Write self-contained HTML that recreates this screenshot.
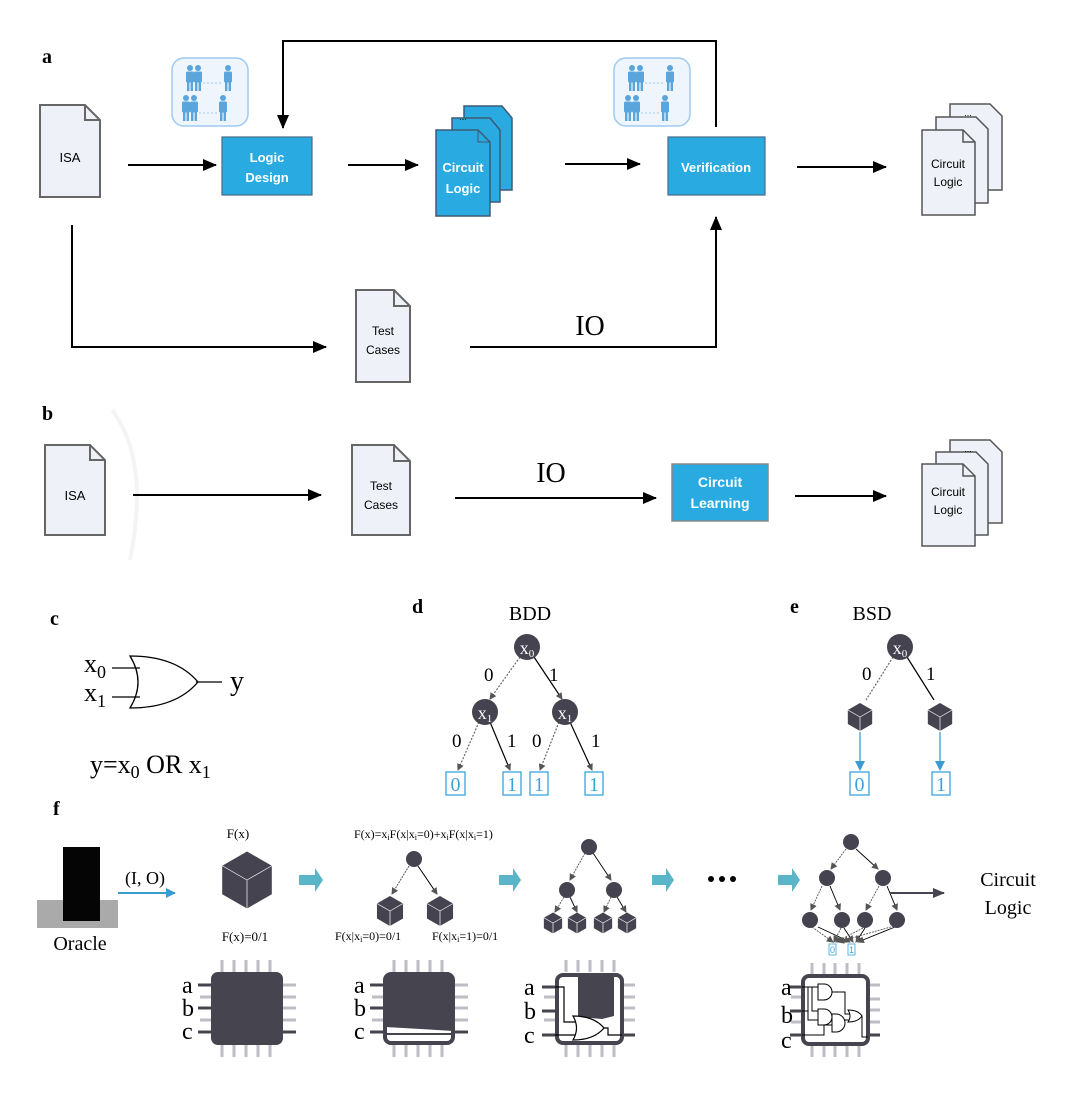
<!DOCTYPE html>
<html><head><meta charset="utf-8"><style>
html,body{margin:0;padding:0;background:#fff;}
svg{display:block;}
.sans{font-family:"Liberation Sans",sans-serif;}
.serif{font-family:"Liberation Serif",serif;}
</style></head><body>
<svg width="1080" height="1093" viewBox="0 0 1080 1093" xmlns="http://www.w3.org/2000/svg">
<defs>
<marker id="ah" markerWidth="14" markerHeight="12" refX="13" refY="6" orient="auto" markerUnits="userSpaceOnUse"><path d="M0,0 L14,6 L0,12 Z" fill="#000"/></marker>
<marker id="ahg" markerWidth="7" markerHeight="7" refX="6" refY="3.5" orient="auto" markerUnits="userSpaceOnUse"><path d="M0,0 L7,3.5 L0,7 Z" fill="#555"/></marker>
<marker id="ahb" markerWidth="10" markerHeight="10" refX="9" refY="5" orient="auto" markerUnits="userSpaceOnUse"><path d="M0,0 L10,5 L0,10 Z" fill="#3a9bd0"/></marker>
<marker id="ahd" markerWidth="12" markerHeight="12" refX="11" refY="6" orient="auto" markerUnits="userSpaceOnUse"><path d="M0,1 L12,6 L0,11 Z" fill="#45444f"/></marker>
<g id="cube"><path d="M0,-10 L8.7,-5 L8.7,5 L0,10 L-8.7,5 L-8.7,-5Z" fill="#44434f"/><path d="M0,0 V10 M0,0 L-8.7,-5 M0,0 L8.7,-5" stroke="#fff" stroke-width="0.7" fill="none" vector-effect="non-scaling-stroke"/></g>
<g id="person" fill="#5aa6dc"><circle cx="0" cy="0" r="3"/><rect x="-4" y="3.5" width="8" height="11" rx="1.5"/><rect x="-3" y="13" width="2.4" height="10"/><rect x="0.6" y="13" width="2.4" height="10"/></g>
<g id="people"><rect x="0" y="0" width="76" height="68" rx="12" fill="#eef5fc" stroke="#9fcaf0" stroke-width="1.5"/>
<use href="#person" transform="translate(18,10)"/><use href="#person" transform="translate(26,10)"/><use href="#person" transform="translate(56,10)"/>
<use href="#person" transform="translate(14,40)"/><use href="#person" transform="translate(22,40)"/><use href="#person" transform="translate(51,40)"/>
<path d="M31,25 H50 M27,55 H45" stroke="#9fcaf0" stroke-dasharray="2,2"/></g>
</defs>

<!-- Panel a -->
<text x="42" y="63" class="serif" font-size="20" font-weight="bold">a</text>
<path d="M40,105 H85 L100,120 V197 H40 Z" fill="#eef2f8" stroke="#666" stroke-width="2"/><path d="M85,105 V120 H100" fill="none" stroke="#666" stroke-width="2"/>
<text x="70" y="162" class="sans" font-size="13" text-anchor="middle">ISA</text>
<line x1="128" y1="165" x2="216" y2="165" stroke="#000" stroke-width="2" marker-end="url(#ah)"/>
<use href="#people" transform="translate(172,58)"/>
<rect x="222" y="137" width="90" height="58" fill="#29abe2" stroke="#4a6a88" stroke-width="1.2"/>
<text x="267" y="162" class="sans" font-size="13" font-weight="bold" fill="#fff" text-anchor="middle">Logic</text>
<text x="267" y="182" class="sans" font-size="13" font-weight="bold" fill="#fff" text-anchor="middle">Design</text>
<line x1="348" y1="165" x2="418" y2="165" stroke="#000" stroke-width="2" marker-end="url(#ah)"/>
<path d="M464,106 H502 L512,118 V190 H464 Z" fill="#29abe2" stroke="#3d5a75" stroke-width="1.5"/>
<path d="M452,118 H490 L500,130 V202 H452 Z" fill="#29abe2" stroke="#3d5a75" stroke-width="1.5"/>
<path d="M436,130 H478 L490,142 V216 H436 Z" fill="#29abe2" stroke="#3d5a75" stroke-width="1.5"/><path d="M478,130 V142 H490" fill="none" stroke="#3d5a75"/>
<text x="463" y="120" class="sans" font-size="9" text-anchor="middle">...</text>
<text x="463" y="172" class="sans" font-size="13" font-weight="bold" fill="#fff" text-anchor="middle">Circuit</text>
<text x="463" y="193" class="sans" font-size="13" font-weight="bold" fill="#fff" text-anchor="middle">Logic</text>
<line x1="565" y1="164" x2="640" y2="164" stroke="#000" stroke-width="2" marker-end="url(#ah)"/>
<use href="#people" transform="translate(614,58)"/>
<rect x="668" y="137" width="97" height="58" fill="#29abe2" stroke="#4a6a88" stroke-width="1.2"/>
<text x="716" y="172" class="sans" font-size="13" font-weight="bold" fill="#fff" text-anchor="middle">Verification</text>
<polyline points="716,127 716,41 283,41 283,128" fill="none" stroke="#000" stroke-width="2" marker-end="url(#ah)"/>
<line x1="797" y1="167" x2="886" y2="167" stroke="#000" stroke-width="2" marker-end="url(#ah)"/>
<g fill="#eef2f8" stroke="#555" stroke-width="1.5">
<path d="M950,104 H990 L1002,116 V190 H950 Z"/><path d="M936,117 H976 L988,129 V203 H936 Z"/><path d="M922,130 H963 L975,142 V215 H922 Z"/><path d="M963,130 V142 H975" fill="none"/></g>
<text x="968" y="116" class="sans" font-size="9" text-anchor="middle">...</text>
<text x="948" y="168" class="sans" font-size="12" text-anchor="middle">Circuit</text>
<text x="948" y="186" class="sans" font-size="12" text-anchor="middle">Logic</text>
<polyline points="72,225 72,347 326,347" fill="none" stroke="#000" stroke-width="2" marker-end="url(#ah)"/>
<path d="M356,290 H394 L410,306 V382 H356 Z" fill="#eef2f8" stroke="#666" stroke-width="2"/><path d="M394,290 V306 H410" fill="none" stroke="#666" stroke-width="2"/>
<text x="383" y="335" class="sans" font-size="12" text-anchor="middle">Test</text>
<text x="383" y="354" class="sans" font-size="12" text-anchor="middle">Cases</text>
<polyline points="470,347 716,347 716,217" fill="none" stroke="#000" stroke-width="2" marker-end="url(#ah)"/>
<text x="590" y="335" class="serif" font-size="28" text-anchor="middle">IO</text>

<!-- Panel b -->
<text x="42" y="420" class="serif" font-size="20" font-weight="bold">b</text>
<path d="M112,410 Q150,460 130,560" fill="none" stroke="#f4f4f4" stroke-width="4"/>
<path d="M45,445 H90 L105,460 V535 H45 Z" fill="#eef2f8" stroke="#666" stroke-width="2"/><path d="M90,445 V460 H105" fill="none" stroke="#666" stroke-width="2"/>
<text x="75" y="500" class="sans" font-size="13" text-anchor="middle">ISA</text>
<line x1="133" y1="495" x2="321" y2="495" stroke="#000" stroke-width="2" marker-end="url(#ah)"/>
<path d="M352,445 H394 L410,461 V535 H352 Z" fill="#eef2f8" stroke="#666" stroke-width="2"/><path d="M394,445 V461 H410" fill="none" stroke="#666" stroke-width="2"/>
<text x="381" y="490" class="sans" font-size="12" text-anchor="middle">Test</text>
<text x="381" y="509" class="sans" font-size="12" text-anchor="middle">Cases</text>
<line x1="455" y1="498" x2="656" y2="498" stroke="#000" stroke-width="2" marker-end="url(#ah)"/>
<text x="551" y="482" class="serif" font-size="28" text-anchor="middle">IO</text>
<rect x="672" y="464" width="96" height="57" fill="#29abe2" stroke="#888" stroke-width="1.5"/>
<text x="720" y="487" class="sans" font-size="14" font-weight="bold" fill="#fff" text-anchor="middle">Circuit</text>
<text x="720" y="508" class="sans" font-size="14" font-weight="bold" fill="#fff" text-anchor="middle">Learning</text>
<line x1="795" y1="496" x2="886" y2="496" stroke="#000" stroke-width="2" marker-end="url(#ah)"/>
<g fill="#eef2f8" stroke="#555" stroke-width="1.5">
<path d="M950,440 H990 L1002,452 V523 H950 Z"/><path d="M936,452 H976 L988,464 V535 H936 Z"/><path d="M922,464 H963 L975,476 V546 H922 Z"/><path d="M963,464 V476 H975" fill="none"/></g>
<text x="968" y="452" class="sans" font-size="9" text-anchor="middle">...</text>
<text x="948" y="496" class="sans" font-size="12" text-anchor="middle">Circuit</text>
<text x="948" y="514" class="sans" font-size="12" text-anchor="middle">Logic</text>

<!-- Panel c -->
<text x="50" y="625" class="serif" font-size="20" font-weight="bold">c</text>
<text x="84" y="672" class="serif" font-size="26">x<tspan font-size="18" dy="6">0</tspan></text>
<text x="84" y="701" class="serif" font-size="26">x<tspan font-size="18" dy="6">1</tspan></text>
<path d="M112,668 H140 M112,697 H140 M196,682 H222" stroke="#000" stroke-width="1.3"/>
<path d="M130,656 Q146,682 130,708 Q176,708 198,682 Q176,656 130,656 Z" fill="none" stroke="#000" stroke-width="1.3"/>
<text x="230" y="690" class="serif" font-size="28">y</text>
<text x="90" y="773" class="serif" font-size="26">y=x<tspan font-size="18" dy="5">0</tspan><tspan dy="-5"> OR x</tspan><tspan font-size="18" dy="5">1</tspan></text>

<!-- Panel d -->
<text x="412" y="613" class="serif" font-size="20" font-weight="bold">d</text>
<text x="530" y="620" class="serif" font-size="20" text-anchor="middle">BDD</text>
<g stroke-width="1.2" fill="none">
<line x1="520" y1="657" x2="490" y2="699" stroke="#666" stroke-dasharray="2,1.5" marker-end="url(#ahg)"/>
<line x1="534" y1="657" x2="562" y2="699" stroke="#000" marker-end="url(#ahg)"/>
<line x1="479" y1="722" x2="458" y2="770" stroke="#666" stroke-dasharray="2,1.5" marker-end="url(#ahg)"/>
<line x1="490" y1="722" x2="510" y2="770" stroke="#000" marker-end="url(#ahg)"/>
<line x1="559" y1="722" x2="540" y2="770" stroke="#666" stroke-dasharray="2,1.5" marker-end="url(#ahg)"/>
<line x1="570" y1="722" x2="592" y2="770" stroke="#000" marker-end="url(#ahg)"/>
</g>
<circle cx="527" cy="647" r="13" fill="#44434f"/><text x="527" y="654" class="serif" font-size="18" fill="#fff" text-anchor="middle">x<tspan font-size="11" dy="3">0</tspan></text>
<circle cx="485" cy="712" r="13" fill="#44434f"/><text x="485" y="719" class="serif" font-size="18" fill="#fff" text-anchor="middle">x<tspan font-size="11" dy="3">1</tspan></text>
<circle cx="565" cy="712" r="13" fill="#44434f"/><text x="565" y="719" class="serif" font-size="18" fill="#fff" text-anchor="middle">x<tspan font-size="11" dy="3">1</tspan></text>
<g class="serif" font-size="19"><text x="484" y="681">0</text><text x="549" y="681">1</text><text x="452" y="747">0</text><text x="507" y="747">1</text><text x="532" y="747">0</text><text x="591" y="747">1</text></g>
<g fill="none" stroke="#3aa3dc" stroke-width="1.3"><rect x="446" y="772" width="19" height="23"/><rect x="503" y="772" width="18" height="23"/><rect x="530" y="772" width="18" height="23"/><rect x="585" y="772" width="18" height="23"/></g>
<g class="serif" font-size="20" fill="#3aa3dc" text-anchor="middle"><text x="455.5" y="791">0</text><text x="512" y="791">1</text><text x="539" y="791">1</text><text x="594" y="791">1</text></g>

<!-- Panel e -->
<text x="790" y="613" class="serif" font-size="20" font-weight="bold">e</text>
<text x="872" y="620" class="serif" font-size="20" text-anchor="middle">BSD</text>
<line x1="893" y1="657" x2="866" y2="700" stroke="#666" stroke-dasharray="2,1.5" stroke-width="1.2"/>
<line x1="907" y1="657" x2="934" y2="700" stroke="#000" stroke-width="1.2"/>
<circle cx="900" cy="647" r="13" fill="#44434f"/><text x="900" y="654" class="serif" font-size="18" fill="#fff" text-anchor="middle">x<tspan font-size="11" dy="3">0</tspan></text>
<text x="862" y="680" class="serif" font-size="19">0</text><text x="926" y="680" class="serif" font-size="19">1</text>
<use href="#cube" transform="translate(860,717) scale(1.4)"/><use href="#cube" transform="translate(940,717) scale(1.4)"/>
<line x1="860" y1="732" x2="860" y2="770" stroke="#3a9bd0" stroke-width="1.3" marker-end="url(#ahb)"/>
<line x1="940" y1="732" x2="940" y2="770" stroke="#3a9bd0" stroke-width="1.3" marker-end="url(#ahb)"/>
<g fill="none" stroke="#3aa3dc" stroke-width="1.3"><rect x="850" y="772" width="19" height="23"/><rect x="932" y="772" width="18" height="23"/></g>
<g class="serif" font-size="20" fill="#3aa3dc" text-anchor="middle"><text x="859.5" y="791">0</text><text x="941" y="791">1</text></g>

<!-- Panel f -->
<text x="53" y="815" class="serif" font-size="20" font-weight="bold">f</text>
<rect x="37" y="900" width="81" height="28" fill="#aaa"/>
<rect x="63" y="847" width="37" height="74" fill="#050505"/>
<text x="80" y="950" class="serif" font-size="20" text-anchor="middle">Oracle</text>
<text x="145" y="884" class="serif" font-size="18" text-anchor="middle">(I, O)</text>
<line x1="118" y1="893" x2="175" y2="893" stroke="#3a9bd0" stroke-width="2" marker-end="url(#ahb)"/>
<text x="238" y="838" class="serif" font-size="13" text-anchor="middle">F(x)</text>
<use href="#cube" transform="translate(247,880) scale(2.85)"/>
<text x="245" y="941" class="serif" font-size="13" text-anchor="middle">F(x)=0/1</text>
<g fill="#5ab5c8">
<path d="M299,875 H315 V868 L323,880 L315,892 V885 H299 Z"/>
<path d="M499,875 H513 V868 L521,880 L513,892 V885 H499 Z"/>
<path d="M652,875 H666 V868 L674,880 L666,892 V885 H652 Z"/>
<path d="M778,875 H792 V868 L800,880 L792,892 V885 H778 Z"/>
</g>
<g fill="#000"><circle cx="711" cy="879" r="3"/><circle cx="722" cy="879" r="3"/><circle cx="733" cy="879" r="3"/></g>
<text x="354" y="838" class="serif" font-size="12">F(x)=x<tspan font-size="8" dy="2">i</tspan><tspan dy="-2">F(x|x</tspan><tspan font-size="8" dy="2">i</tspan><tspan dy="-2">=0)+x</tspan><tspan font-size="8" dy="2">i</tspan><tspan dy="-2">F(x|x</tspan><tspan font-size="8" dy="2">i</tspan><tspan dy="-2">=1)</tspan></text>
<line x1="409" y1="866" x2="392" y2="894" stroke="#555" stroke-width="1" stroke-dasharray="2,1" marker-end="url(#ahg)"/>
<line x1="418" y1="866" x2="437" y2="894" stroke="#000" stroke-width="1" marker-end="url(#ahg)"/>
<circle cx="414" cy="859" r="8" fill="#44434f"/>
<use href="#cube" transform="translate(390,911) scale(1.5)"/><use href="#cube" transform="translate(440,911) scale(1.5)"/>
<text x="335" y="940" class="serif" font-size="12">F(x|x<tspan font-size="8" dy="2">i</tspan><tspan dy="-2">=0)=0/1</tspan></text>
<text x="432" y="940" class="serif" font-size="12">F(x|x<tspan font-size="8" dy="2">i</tspan><tspan dy="-2">=1)=0/1</tspan></text>
<g stroke-width="0.9" fill="none">
<line x1="585" y1="853" x2="570" y2="880" stroke="#555" stroke-dasharray="2,1" marker-end="url(#ahg)"/>
<line x1="593" y1="853" x2="611" y2="880" stroke="#000" marker-end="url(#ahg)"/>
<line x1="564" y1="897" x2="555" y2="912" stroke="#555" stroke-dasharray="2,1" marker-end="url(#ahg)"/>
<line x1="570" y1="897" x2="577" y2="912" stroke="#000" marker-end="url(#ahg)"/>
<line x1="611" y1="897" x2="604" y2="912" stroke="#555" stroke-dasharray="2,1" marker-end="url(#ahg)"/>
<line x1="617" y1="897" x2="626" y2="912" stroke="#000" marker-end="url(#ahg)"/>
</g>
<circle cx="589" cy="847" r="8" fill="#44434f"/><circle cx="567" cy="890" r="8" fill="#44434f"/><circle cx="614" cy="890" r="8" fill="#44434f"/>
<use href="#cube" transform="translate(553,923) scale(1.05)"/><use href="#cube" transform="translate(577,923) scale(1.05)"/><use href="#cube" transform="translate(603,923) scale(1.05)"/><use href="#cube" transform="translate(627,923) scale(1.05)"/>
<g stroke-width="0.9" fill="none">
<line x1="846" y1="849" x2="831" y2="869" stroke="#555" stroke-dasharray="2,1" marker-end="url(#ahg)"/>
<line x1="856" y1="849" x2="878" y2="869" stroke="#000" marker-end="url(#ahg)"/>
<line x1="822" y1="886" x2="811" y2="910" stroke="#555" stroke-dasharray="2,1" marker-end="url(#ahg)"/>
<line x1="830" y1="886" x2="840" y2="910" stroke="#000" marker-end="url(#ahg)"/>
<line x1="879" y1="886" x2="866" y2="910" stroke="#555" stroke-dasharray="2,1" marker-end="url(#ahg)"/>
<line x1="887" y1="886" x2="897" y2="910" stroke="#000" marker-end="url(#ahg)"/>
<line x1="812" y1="927" x2="833" y2="942" stroke="#555" stroke-dasharray="2,1" marker-end="url(#ahg)"/>
<line x1="818" y1="927" x2="850" y2="942" stroke="#000" marker-end="url(#ahg)"/>
<line x1="841" y1="928" x2="834" y2="942" stroke="#555" stroke-dasharray="2,1" marker-end="url(#ahg)"/>
<line x1="844" y1="928" x2="853" y2="942" stroke="#000" marker-end="url(#ahg)"/>
<line x1="863" y1="928" x2="836" y2="942" stroke="#555" stroke-dasharray="2,1" marker-end="url(#ahg)"/>
<line x1="865" y1="928" x2="856" y2="942" stroke="#000" marker-end="url(#ahg)"/>
<line x1="894" y1="926" x2="838" y2="942" stroke="#555" stroke-dasharray="2,1" marker-end="url(#ahg)"/>
<line x1="895" y1="927" x2="858" y2="942" stroke="#000" marker-end="url(#ahg)"/>
</g>
<circle cx="851" cy="842" r="8" fill="#44434f"/><circle cx="827" cy="878" r="8" fill="#44434f"/><circle cx="883" cy="878" r="8" fill="#44434f"/>
<circle cx="810" cy="920" r="8" fill="#44434f"/><circle cx="842" cy="920" r="8" fill="#44434f"/><circle cx="865" cy="920" r="8" fill="#44434f"/><circle cx="897" cy="920" r="8" fill="#44434f"/>
<g fill="none" stroke="#3aa3dc" stroke-width="0.8"><rect x="829" y="944" width="7" height="11"/><rect x="848" y="944" width="7" height="11"/></g>
<text x="832.5" y="953" class="sans" font-size="9" fill="#3aa3dc" text-anchor="middle">0</text><text x="851.5" y="953" class="sans" font-size="9" fill="#3aa3dc" text-anchor="middle">1</text>
<line x1="890" y1="893" x2="944" y2="893" stroke="#45444f" stroke-width="2" marker-end="url(#ahd)"/>
<text x="1008" y="886" class="serif" font-size="20" text-anchor="middle">Circuit</text>
<text x="1008" y="914" class="serif" font-size="20" text-anchor="middle">Logic</text>

<!-- chips -->
<g>
<g stroke="#bdbdc6" stroke-width="3"><path d="M222,960 V972 M234,960 V972 M246,960 V972 M258,960 V972 M270,960 V972 M222,1045 V1057 M234,1045 V1057 M246,1045 V1057 M258,1045 V1057 M270,1045 V1057 M283,985 H296 M283,997 H296 M283,1008 H296 M283,1020 H296 M200,997 H211 M200,1020 H211"/></g>
<g stroke="#45444f" stroke-width="3"><path d="M198,985 H211 M198,1008 H211 M198,1032 H211 M283,1032 H296"/></g>
<rect x="211" y="972" width="72" height="73" rx="7" fill="#45444f"/>
<g class="serif" font-size="24"><text x="182" y="993">a</text><text x="182" y="1016">b</text><text x="182" y="1039">c</text></g>
</g>
<g transform="translate(172,0)">
<g stroke="#bdbdc6" stroke-width="3"><path d="M222,960 V972 M234,960 V972 M246,960 V972 M258,960 V972 M270,960 V972 M222,1045 V1057 M234,1045 V1057 M246,1045 V1057 M258,1045 V1057 M270,1045 V1057 M283,985 H296 M283,997 H296 M283,1008 H296 M283,1020 H296 M200,997 H211 M200,1020 H211"/></g>
<g stroke="#45444f" stroke-width="3"><path d="M198,985 H211 M198,1008 H211 M198,1032 H211 M283,1032 H296"/></g>
<rect x="213" y="974" width="68" height="69" rx="6" fill="#fff" stroke="#45444f" stroke-width="4"/>
<path d="M213,980 Q213,974 219,974 H275 Q281,974 281,980 V1031 Q250,1029 213,1027 Z" fill="#45444f"/>
<line x1="213" y1="1034" x2="281" y2="1034" stroke="#45444f" stroke-width="2"/>
<g class="serif" font-size="24"><text x="182" y="993">a</text><text x="182" y="1016">b</text><text x="182" y="1039">c</text></g>
</g>
<g transform="translate(344,0)">
<g stroke="#bdbdc6" stroke-width="3"><path d="M222,960 V972 M234,960 V972 M246,960 V972 M258,960 V972 M270,960 V972 M222,1045 V1057 M234,1045 V1057 M246,1045 V1057 M258,1045 V1057 M270,1045 V1057 M278,985 H291 M278,997 H291 M278,1008 H291 M278,1020 H291 M200,997 H211 M200,1020 H211"/></g>
<g stroke="#45444f" stroke-width="3"><path d="M198,987 H211 M198,1011 H211 M198,1035 H211 M278,1035 H291"/></g>
<rect x="213" y="975" width="65" height="68" rx="6" fill="#fff" stroke="#45444f" stroke-width="4"/>
<path d="M234,975 H270 V1016 L258,1019 L234,1017 Z" fill="#45444f"/>
<path d="M211,987 H220 V1022 H232 M211,1035 H232 M258,1028 H264 V1035 H278" fill="none" stroke="#000" stroke-width="1.2"/>
<path d="M229,1016 Q236,1028 229,1040 Q250,1040 260,1028 Q250,1016 229,1016 Z" fill="#fff" stroke="#000" stroke-width="1.2"/>
<g class="serif" font-size="24"><text x="180" y="995">a</text><text x="180" y="1019">b</text><text x="180" y="1043">c</text></g>
</g>
<g>
<g stroke="#bdbdc6" stroke-width="3"><path d="M812,963 V975 M824,963 V975 M835,963 V975 M847,963 V975 M859,963 V975 M812,1045 V1057 M824,1045 V1057 M835,1045 V1057 M847,1045 V1057 M859,1045 V1057 M868,985 H880 M868,999 H880 M868,1010 H880 M868,1022 H880 M791,997 H802 M791,1022 H802"/></g>
<g stroke="#45444f" stroke-width="3"><path d="M790,987 H802 M790,1011 H802 M790,1035 H802 M868,1035 H880"/></g>
<rect x="803" y="976" width="65" height="68" rx="6" fill="#fff" stroke="#45444f" stroke-width="4"/>
<g fill="none" stroke="#000" stroke-width="1"><path d="M802,987 H818 M812,987 V1011 H818 M808,987 V1020 H818 M802,1011 H808 M828,992 H845 V1014 H850 M828,1017 H832 M802,1035 H824 V1025 H832 M840,1020 H850 M855,1016 H862 V1037 H868"/></g>
<g fill="#fff" stroke="#000" stroke-width="1"><path d="M818,984 H824 A8,8 0 0 1 824,1000 H818 Z"/><path d="M818,1009 H824 A8,8 0 0 1 824,1025 H818 Z"/><path d="M832,1014 H836 A9,9 0 0 1 836,1032 H832 Z"/><path d="M848,1010 Q852,1016 848,1022 Q858,1022 862,1016 Q858,1010 848,1010 Z"/></g>
<g class="serif" font-size="24"><text x="781" y="995">a</text><text x="781" y="1023">b</text><text x="781" y="1048">c</text></g>
</g>
</svg>
</body></html>
